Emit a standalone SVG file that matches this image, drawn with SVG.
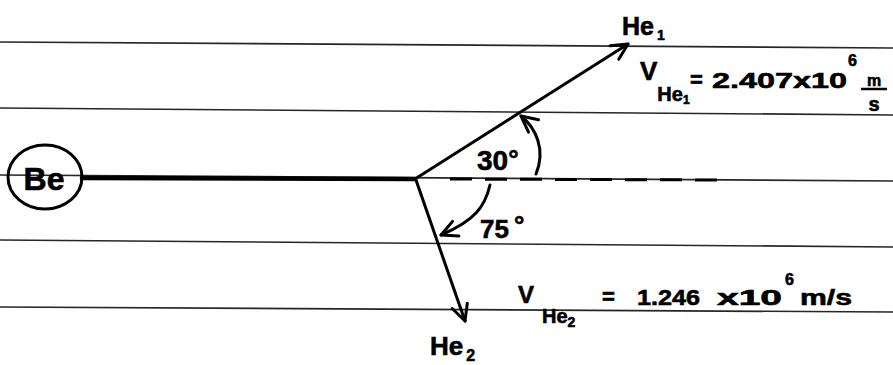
<svg xmlns="http://www.w3.org/2000/svg" width="893" height="365" viewBox="0 0 893 365">
<style>
.rule{stroke:#262626;stroke-width:1.7;fill:none}
.ink{stroke:#000;stroke-width:3;fill:none;stroke-linecap:round}
.t{font-family:"Liberation Sans",Arial,sans-serif;font-weight:bold;fill:#000;stroke:#000;stroke-width:0.6}
</style>
<defs>
<marker id="arr" markerUnits="userSpaceOnUse" viewBox="-20 -12 24 24" markerWidth="24" markerHeight="24" refX="0" refY="0" orient="auto">
<path d="M-16,-8 L0,0 L-16,8" fill="none" stroke="#000" stroke-width="3" stroke-linecap="round" stroke-linejoin="round"/>
</marker>
</defs>
<rect width="893" height="365" fill="#fff"/>
<g id="paper-lines">
<line class="rule" x1="0" y1="42" x2="893" y2="48"/>
<line class="rule" x1="0" y1="108" x2="893" y2="115"/>
<line class="rule" x1="0" y1="175" x2="893" y2="181"/>
<line class="rule" x1="0" y1="240" x2="893" y2="247"/>
<line class="rule" x1="0" y1="307" x2="893" y2="312"/>
</g>
<g id="connectors">
<line class="ink" x1="82" y1="178" x2="415" y2="179" style="stroke-width:4.5"/>
<line class="ink" x1="450" y1="179" x2="717" y2="180" style="stroke-dasharray:22 13;stroke-linecap:butt"/>
<path class="ink" d="M415,179 L628,44" marker-end="url(#arr)"/>
<path class="ink" d="M416,180 L465,321" marker-end="url(#arr)"/>
<path class="ink" d="M536,174 C546,150 536,128 521,116" marker-end="url(#arr)"/>
<path class="ink" d="M490,185 C485,206 476,220 441,235" marker-end="url(#arr)"/>
</g>
<g id="node-Be">
<ellipse cx="45" cy="177" rx="37" ry="32" fill="none" stroke="#000" stroke-width="3"/>
<text class="t" x="44" y="190" font-size="32" text-anchor="middle">Be</text>
</g>
<g id="node-He1">
<text class="t" x="622" y="35" font-size="25">He<tspan font-size="14" dx="3" dy="5">1</tspan></text>
</g>
<g id="label-vHe1">
<text class="t" x="640" y="80" font-size="26">V<tspan font-size="20" dy="21">He</tspan><tspan font-size="12" dy="3">1</tspan></text>
<text class="t" x="690" y="87" font-size="22">=</text>
<text class="t" x="712" y="88" font-size="22" textLength="135" lengthAdjust="spacingAndGlyphs">2.407x10</text>
<text class="t" x="848" y="66" font-size="16">6</text>
<text class="t" x="874" y="86" font-size="16" text-anchor="middle">m</text>
<line x1="861" y1="89" x2="887" y2="89" stroke="#000" stroke-width="2.5"/>
<text class="t" x="874" y="111" font-size="20" text-anchor="middle">s</text>
</g>
<g id="label-30">
<text class="t" x="477" y="170" font-size="28">30<tspan font-size="26" dy="-2">°</tspan></text>
</g>
<g id="label-75">
<text class="t" x="480" y="238" font-size="26">75<tspan font-size="26" dx="5" dy="-4">°</tspan></text>
</g>
<g id="label-vHe2">
<text class="t" x="518" y="303" font-size="24">V<tspan font-size="20" dx="8" dy="20">He</tspan><tspan font-size="14" dy="4">2</tspan></text>
<text class="t" x="602" y="304" font-size="22">=</text>
<text class="t" x="637" y="305" font-size="22" textLength="63" lengthAdjust="spacingAndGlyphs">1.246</text>
<text class="t" x="717" y="305" font-size="22" textLength="65" lengthAdjust="spacingAndGlyphs">x10</text>
<text class="t" x="785" y="285" font-size="16">6</text>
<text class="t" x="800" y="305" font-size="22" textLength="52" lengthAdjust="spacingAndGlyphs">m/s</text>
</g>
<g id="node-He2">
<text class="t" x="430" y="355" font-size="26">He<tspan font-size="16" dx="3" dy="6">2</tspan></text>
</g>
</svg>
